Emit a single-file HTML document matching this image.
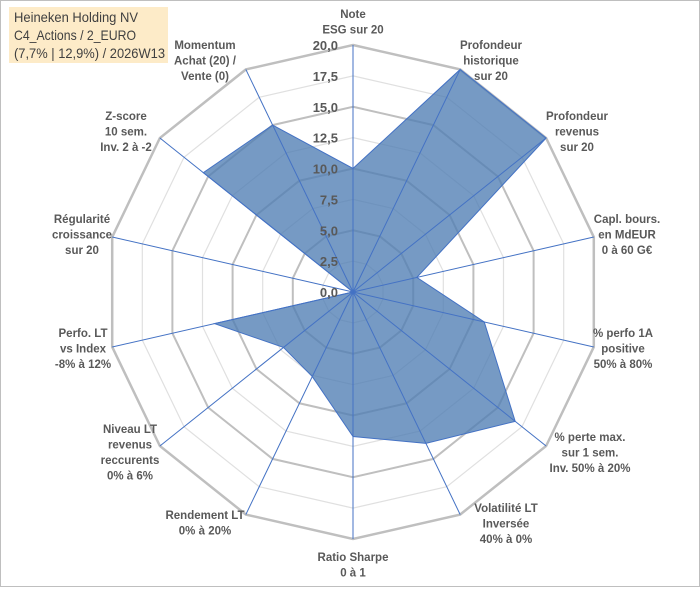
<!DOCTYPE html>
<html><head><meta charset="utf-8"><style>
body{margin:0;background:#fff}
svg text{font-family:"Liberation Sans",sans-serif}
.lbl{font-size:11.5px;font-weight:bold;fill:#595959;text-anchor:middle}
.tk{font-size:13px;font-weight:bold;fill:#595959;text-anchor:end}
</style></head><body>
<svg id="chart" width="700" height="587" xmlns="http://www.w3.org/2000/svg">
<rect x="0.5" y="0.5" width="699" height="586" fill="#fff" stroke="#bfbfbf"/>
<g id="grid"></g><g id="series"></g><g id="axes"></g><g id="ticks"></g><g id="labels"></g>
<g>
<rect x="9" y="7" width="159" height="56" fill="#fdebc8"/>
<text x="14" y="22" font-size="14" fill="#404040" textLength="124" lengthAdjust="spacingAndGlyphs">Heineken Holding NV</text>
<text x="14" y="40" font-size="14" fill="#404040" textLength="122" lengthAdjust="spacingAndGlyphs">C4_Actions / 2_EURO</text>
<text x="14" y="58" font-size="14" fill="#404040" textLength="151" lengthAdjust="spacingAndGlyphs">(7,7% | 12,9%) / 2026W13</text>
</g>
</svg>
<script>
const categories=[["Note","ESG sur 20"],["Profondeur","historique","sur 20"],["Profondeur","revenus","sur 20"],["Capl. bours.","en MdEUR","0 à 60 G€"],["% perfo 1A","positive","50% à 80%"],["% perte max.","sur 1 sem.","Inv. 50% à 20%"],["Volatilité LT","Inversée","40% à 0%"],["Ratio Sharpe","0 à 1"],["Rendement LT","0% à 20%"],["Niveau LT","revenus","reccurents","0% à 6%"],["Perfo. LT","vs Index","-8% à 12%"],["Régularité","croissance","sur 20"],["Z-score","10 sem.","Inv. 2 à -2"],["Momentum","Achat (20) /","Vente (0)"]];
const values=[10,20,20,5.3,10.9,16.8,13.6,11.7,7.6,7.2,11.5,0,15.5,15.0];
const tickLabels=["0,0","2,5","5,0","7,5","10,0","12,5","15,0","17,5","20,0"];
const tickValues=[0,2.5,5,7.5,10,12.5,15,17.5,20];
const labelPos=[[353,14],[491,45],[577,116],[627,219],[623,333],[590,437],[506,508],[353,557],[205,515],[130,429],[83,333],[82,219],[126,116],[205,45]];
const cx=353,cy=292,R=247,maxV=20,N=categories.length;
const NS="http://www.w3.org/2000/svg";
function ang(i){return i*2*Math.PI/N;}
function pt(i,v){const r=v/maxV*R,a=ang(i);return [cx+r*Math.sin(a),cy-r*Math.cos(a)];}
function mk(tag,attrs,parent){const e=document.createElementNS(NS,tag);for(const k in attrs)e.setAttribute(k,attrs[k]);document.getElementById(parent).appendChild(e);return e;}
tickValues.forEach((t,k)=>{if(t===0)return;
 const p=categories.map((_,i)=>pt(i,t).join(',')).join(' ');
 const e=mk('polygon',{points:p,fill:'none',stroke:k%2===0?'#bfbfbf':'#e0e0e0','stroke-width':k===8?2.5:(k%2===0?2:1.2)},'grid');
 
 
});
const poly=mk('polygon',{points:values.map((v,i)=>pt(i,v).join(',')).join(' '),fill:'#4f7db3','fill-opacity':0.78,stroke:'#4472c4','stroke-width':1},'series');


categories.forEach((c,i)=>{const [x,y]=pt(i,maxV);
 const l=mk('line',{x1:cx,y1:cy,x2:x,y2:y,stroke:'#4472c4','stroke-width':1},'axes');
 
 
 const t=mk('text',{class:'lbl',x:labelPos[i][0],y:labelPos[i][1]+4},'labels');
 
 
 c.forEach((s,j)=>{const ts=document.createElementNS(NS,'tspan');ts.setAttribute('x',labelPos[i][0]);if(j>0)ts.setAttribute('dy',15.5);ts.textContent=s;t.appendChild(ts);});
});
tickValues.forEach((t,k)=>{const y=cy-t/maxV*R;
 const e=mk('text',{class:'tk',x:338,y:y+5},'ticks');
 e.textContent=tickLabels[k];
 
 
});
</script>
</body></html>
